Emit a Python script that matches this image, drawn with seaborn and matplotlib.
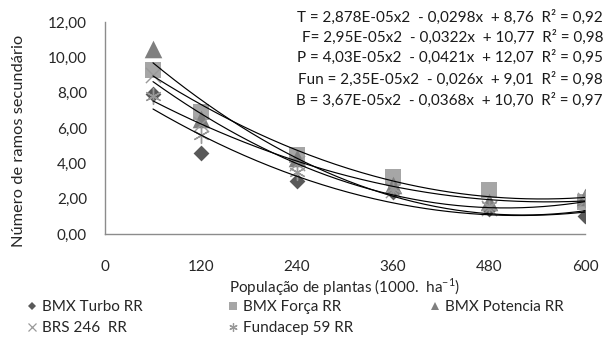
import numpy as np
import pandas as pd
import matplotlib
matplotlib.use("Agg")
import matplotlib.pyplot as plt
import seaborn as sns
from matplotlib.lines import Line2D

# ---- data ----
populacao = [60, 120, 240, 360, 480, 600]
turbo = [7.9, 4.6, 3.0, 2.4, 1.4, 1.0]
forca = [9.3, 6.9, 4.5, 3.2, 2.5, 1.8]
potencia = [10.5, 6.5, 4.3, 2.8, 1.8, 2.1]
brs246 = [9.0, 6.2, 4.0, 2.5, 1.5, 1.9]
fundacep = [7.8, 5.6, 3.5, 2.6, 1.6, 2.0]

series_names = ["BMX Turbo RR", "BMX Força RR", "BMX Potencia RR", "BRS 246  RR", "Fundacep 59 RR"]
series_values = [turbo, forca, potencia, brs246, fundacep]

# trend-line coefficients (a, b, c) printed on the chart: y = a x^2 + b x + c
coef_T = [2.878e-05, -0.0298, 8.76]
coef_F = [2.95e-05, -0.0322, 10.77]
coef_P = [4.03e-05, -0.0421, 12.07]
coef_Fun = [2.35e-05, -0.026, 9.01]
coef_B = [3.67e-05, -0.0368, 10.70]
coefs = [coef_T, coef_F, coef_P, coef_Fun, coef_B]

equations = [
    "T = 2,878E-05x2  - 0,0298x  + 8,76  R² = 0,92",
    "F= 2,95E-05x2  - 0,0322x  + 10,77  R² = 0,98",
    "P = 4,03E-05x2  - 0,0421x  + 12,07  R² = 0,95",
    "Fun = 2,35E-05x2  - 0,026x  + 9,01  R² = 0,98",
    "B = 3,67E-05x2  - 0,0368x  + 10,70  R² = 0,97",
]

x_ticks = [0, 120, 240, 360, 480, 600]
y_ticks = [0, 2, 4, 6, 8, 10, 12]
y_tick_labels = ["0,00", "2,00", "4,00", "6,00", "8,00", "10,00", "12,00"]

# ---- style ----
sns.set_style("white")
plt.rcParams['font.family'] = ['Lato', 'DejaVu Sans']
TXT = "#262626"
FS = 11

styles = [
    dict(marker="D", color="#595959", s=65, lw=0, ms=5),
    dict(marker="s", color="#a6a6a6", s=140, lw=0, ms=7.5),
    dict(marker="^", color="#7f7f7f", s=160, lw=0, ms=8),
    dict(marker="x", color="#999999", s=120, lw=1.0, ms=7),
    dict(marker=(6, 2, 0), color="#999999", s=130, lw=1.0, ms=7.5),
]

W, H = 608, 343
fig = plt.figure(figsize=(W / 100, H / 100), dpi=100)
x0, x1, ytop, ybot = 105, 585, 22, 234
ax = fig.add_axes([x0 / W, 1 - ybot / H, (x1 - x0) / W, (ybot - ytop) / H])

for vals, st in zip(series_values, styles):
    df = pd.DataFrame({"x": populacao, "y": vals})
    line_art = st["lw"] > 0
    sns.scatterplot(data=df, x="x", y="y", marker=st["marker"], color=st["color"],
                    s=st["s"], linewidth=st["lw"] if line_art else 0,
                    ax=ax, zorder=3, legend=False)

xx = np.linspace(populacao[0], populacao[-1], 200)
for c in coefs:
    yy = np.polyval(c, xx)
    sns.lineplot(x=xx, y=yy, color="black", linewidth=0.85, ax=ax, zorder=4)

ax.set_xlim(0, 600)
ax.set_ylim(0, 12)
ax.set_xticks(x_ticks)
ax.set_xticklabels([str(t) for t in x_ticks])
ax.set_yticks(y_ticks)
ax.set_yticklabels(y_tick_labels)
for side in ["top", "right"]:
    ax.spines[side].set_visible(False)
for side in ["left", "bottom"]:
    ax.spines[side].set_color("#8c8c8c")
    ax.spines[side].set_linewidth(1.0)
ax.tick_params(axis="both", direction="out", length=5, width=1, color="#8c8c8c",
               labelsize=FS, labelcolor=TXT)
ax.tick_params(axis="x", pad=14)
ax.tick_params(axis="y", pad=8)

ax.set_xlabel("População de plantas (1000.  ha$^{\\mathregular{-1}}$)", fontsize=FS, color=TXT)
ax.xaxis.label.set_va("center")
ax.xaxis.set_label_coords(0.5, (ybot - 287) / (ybot - ytop))
ax.set_ylabel("Número de ramos secundário", fontsize=11.8, color=TXT)
ax.yaxis.label.set_va("center")
ax.yaxis.set_label_coords((19 - x0) / (x1 - x0), (ybot - 141) / (ybot - ytop))

ys = [17, 37, 57, 79, 100]
for eq, yp in zip(equations, ys):
    fig.text(603 / W, 1 - yp / H, eq, ha="right", va="center", fontsize=FS, color="#1a1a1a")

handles = []
for name, st in zip(series_names, styles):
    handles.append(Line2D([], [], linestyle="none", marker=st["marker"], color=st["color"],
                          markersize=st["ms"] * 0.8, markeredgewidth=0.9 if st["lw"] else 0,
                          label=name))

columns = [[handles[0], handles[3]], [handles[1], handles[4]], [handles[2]]]
col_x = [32, 233, 435]
for hs, cx in zip(columns, col_x):
    leg = fig.legend(handles=hs, loc="upper left", bbox_to_anchor=((cx - 8) / W, 1 - 300 / H),
                     frameon=False, fontsize=FS, handletextpad=0.15, handlelength=1.0,
                     labelspacing=0.45, borderaxespad=0, borderpad=0, labelcolor=TXT)

fig.savefig("out.png", dpi=100)
